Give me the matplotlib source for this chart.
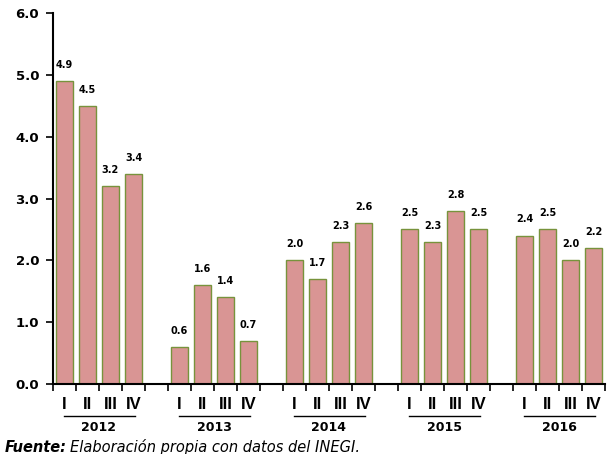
import numpy as np
import matplotlib
matplotlib.use("Agg")
import matplotlib.pyplot as plt

years = ["2012", "2013", "2014", "2015", "2016"]
quarters = ["I", "II", "III", "IV"]
values = [
    [4.9, 4.5, 3.2, 3.4],
    [0.6, 1.6, 1.4, 0.7],
    [2.0, 1.7, 2.3, 2.6],
    [2.5, 2.3, 2.8, 2.5],
    [2.4, 2.5, 2.0, 2.2],
]
labels = [
    ["4.9", "4.5", "3.2", "3.4"],
    ["0.6", "1.6", "1.4", "0.7"],
    ["2.0", "1.7", "2.3", "2.6"],
    ["2.5", "2.3", "2.8", "2.5"],
    ["2.4", "2.5", "2.0", "2.2"],
]
yticks = [0, 1, 2, 3, 4, 5, 6]

plt.rcParams["font.family"] = ["DejaVu Sans"]
arial = ["Liberation Sans", "DejaVu Sans"]

fig = plt.figure(figsize=(6.09, 4.54), dpi=100)
ax = fig.add_axes([53 / 609, 1 - 384 / 454, 552 / 609, 371 / 454])

fill = "#D99594"
edge = "#77933C"

tr = ax.get_xaxis_transform()
for k, yr in enumerate(years):
    x = k * 5 + np.arange(4) + 0.5
    ax.bar(x, values[k], width=0.78, color=fill, edgecolor=edge, linewidth=1.0)
    for xi, v, lab in zip(x, values[k], labels[k]):
        ax.annotate(lab, (xi, v), xytext=(0, 8), textcoords="offset points",
                    ha="center", va="bottom", fontsize=7, fontweight="bold")
    for xi, q in zip(x, quarters):
        ax.text(xi, -0.056, q, transform=tr, ha="center", va="center",
                fontsize=12, fontweight="bold", family=arial)
    ax.plot([k * 5 + 0.48, k * 5 + 3.57], [-0.086, -0.086], transform=tr,
            color="black", lw=1.0, clip_on=False)
    ax.text(k * 5 + 2, -0.118, yr, transform=tr, ha="center", va="center",
            fontsize=9, fontweight="bold")

ax.set_xlim(0, 24)
ax.set_ylim(0, 6)
ax.set_xticks(np.arange(0, 25))
ax.set_xticklabels([])
ax.tick_params(axis="x", direction="out", length=5, width=1.2, color="black")
ax.set_yticks(yticks)
ax.set_yticklabels([f"{t:.1f}" for t in yticks], fontsize=9.5, fontweight="bold")
ax.tick_params(axis="y", direction="out", length=5, width=1.2, pad=5)
for s in ["top", "right"]:
    ax.spines[s].set_visible(False)
for s in ["left", "bottom"]:
    ax.spines[s].set_linewidth(1.5)

# fuente: bold italic part followed by regular italic
t1 = fig.text(5 / 609, 1 - 447 / 454, "Fuente:", fontsize=10.5, fontweight="bold",
              style="italic", va="center", ha="left")
fig.canvas.draw()
bb = t1.get_window_extent()
fig.text(bb.x1 / fig.bbox.width + 3 / 609, 1 - 447 / 454,
         "Elaboración propia con datos del INEGI.",
         fontsize=10.5, style="italic", va="center", ha="left")

fig.savefig("out.png", dpi=100)
